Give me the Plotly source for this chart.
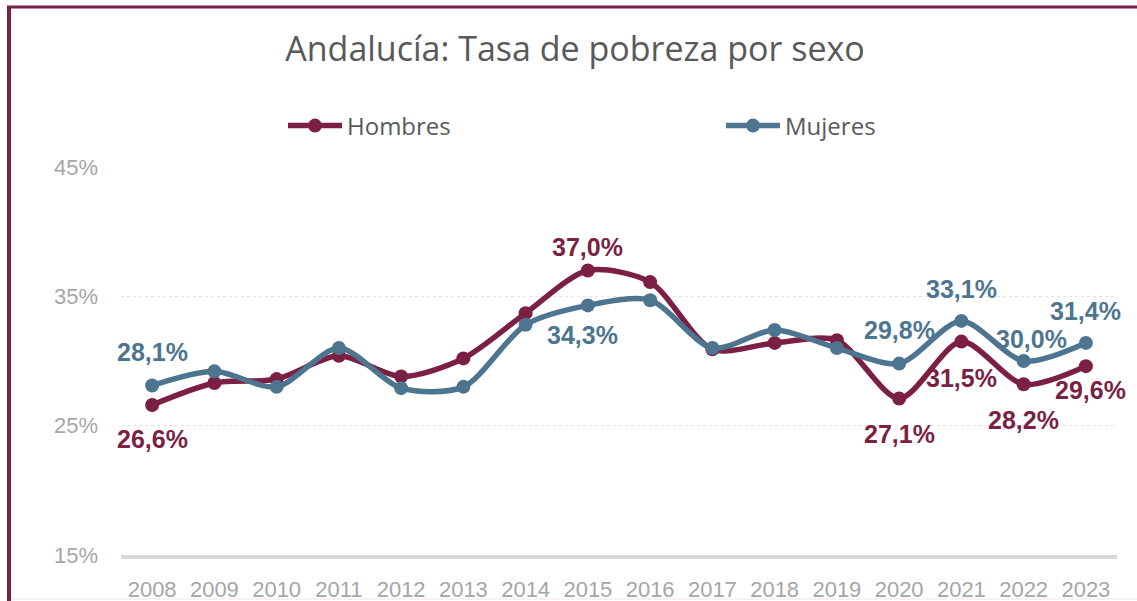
import plotly.graph_objects as go

years = list(range(2008, 2024))
hombres = [26.6, 28.3, 28.6, 30.4, 28.8, 30.2, 33.7, 37.0, 36.1, 30.9, 31.4, 31.6, 27.1, 31.5, 28.2, 29.6]
mujeres = [28.1, 29.2, 28.0, 31.0, 27.9, 28.0, 32.8, 34.3, 34.7, 31.0, 32.4, 31.0, 29.8, 33.1, 30.0, 31.4]

# labelled points: (year index, xshift, yshift)
h_labels = [(0, 0, -34), (7, 0, 23), (12, 0, -35), (13, 0, -36), (14, 0, -36), (15, 5, -24)]
m_labels = [(0, 0, 34), (7, -5, -30), (12, 0, 34), (13, 0, 32), (14, 8, 22), (15, 0, 32)]

C_H = "#7B1F45"
C_M = "#4E7590"

W, H = 1137, 601
L, R, T, B = 121, 20, 167, 46
PW = W - L - R
PH = H - T - B

def px(x):
    return (x - L) / PW

def py(y):
    return 1 - (y - T) / PH

fig = go.Figure()
fig.add_trace(go.Scatter(x=years, y=hombres, name="Hombres", mode="lines+markers",
                         line=dict(color=C_H, width=5.5, shape="spline", smoothing=0.8),
                         marker=dict(size=14, color=C_H), legend="legend"))
fig.add_trace(go.Scatter(x=years, y=mujeres, name="Mujeres", mode="lines+markers",
                         line=dict(color=C_M, width=5.5, shape="spline", smoothing=0.8),
                         marker=dict(size=14, color=C_M), legend="legend2"))

def fmt(v):
    return f"{v:.1f}".replace(".", ",") + "%"

anns = []
for vals, labs, col in [(hombres, h_labels, C_H), (mujeres, m_labels, C_M)]:
    for i, xs, ys in labs:
        anns.append(dict(x=years[i], y=vals[i], xref="x", yref="y", text="<b>" + fmt(vals[i]) + "</b>",
                         showarrow=False, xshift=xs, yshift=ys,
                         font=dict(family="Liberation Sans, Arial", size=25, color=col)))

shapes = [
    dict(type="line", xref="paper", yref="paper", x0=px(9), x1=px(9), y0=py(6), y1=py(601),
         line=dict(color=C_H, width=4)),
    dict(type="line", xref="paper", yref="paper", x0=px(7), x1=px(1137), y0=py(7), y1=py(7),
         line=dict(color=C_H, width=3)),
    dict(type="line", xref="paper", yref="paper", x0=px(11), x1=px(1137), y0=py(599), y1=py(599),
         line=dict(color="#F0E4EA", width=1)),
]

leg_font = dict(family="Open Sans", size=24, color="#595959")

fig.update_layout(
    width=W, height=H,
    margin=dict(l=L, r=R, t=T, b=B, autoexpand=False),
    paper_bgcolor="white", plot_bgcolor="white",
    title=dict(text="Andalucía: Tasa de pobreza por sexo", xref="container", x=575 / W, xanchor="center",
               y=1 - 49 / H, yanchor="middle",
               font=dict(family="Open Sans", size=34, color="#595959")),
    legend=dict(orientation="h", x=px(283), xanchor="left", y=py(126), yanchor="middle",
                font=leg_font, itemwidth=54),
    legend2=dict(orientation="h", x=px(721), xanchor="left", y=py(126), yanchor="middle",
                 font=leg_font, itemwidth=54),
    xaxis=dict(range=[2007.5, 2023.5], tickvals=years, ticktext=[str(y) for y in years],
               showgrid=False, showline=True, zeroline=False,
               linecolor="#D9D9D9", linewidth=4, ticks="", ticklabelstandoff=12,
               tickfont=dict(family="Liberation Sans, Arial", size=22, color="#A6A6A6")),
    yaxis=dict(range=[15, 45], tickvals=[15, 25, 35, 45], ticktext=["15%", "25%", "35%", "45%"],
               showgrid=True, gridcolor="#E3E3E3", griddash="dot", gridwidth=1,
               zeroline=False, ticks="", ticklabelstandoff=22,
               tickfont=dict(family="Liberation Sans, Arial", size=22, color="#A6A6A6")),
    annotations=anns,
    shapes=shapes,
    showlegend=True,
)

fig.write_html("out.html", config={"displayModeBar": False},
               post_script="document.body.style.margin='0';document.body.style.overflow='hidden';")
